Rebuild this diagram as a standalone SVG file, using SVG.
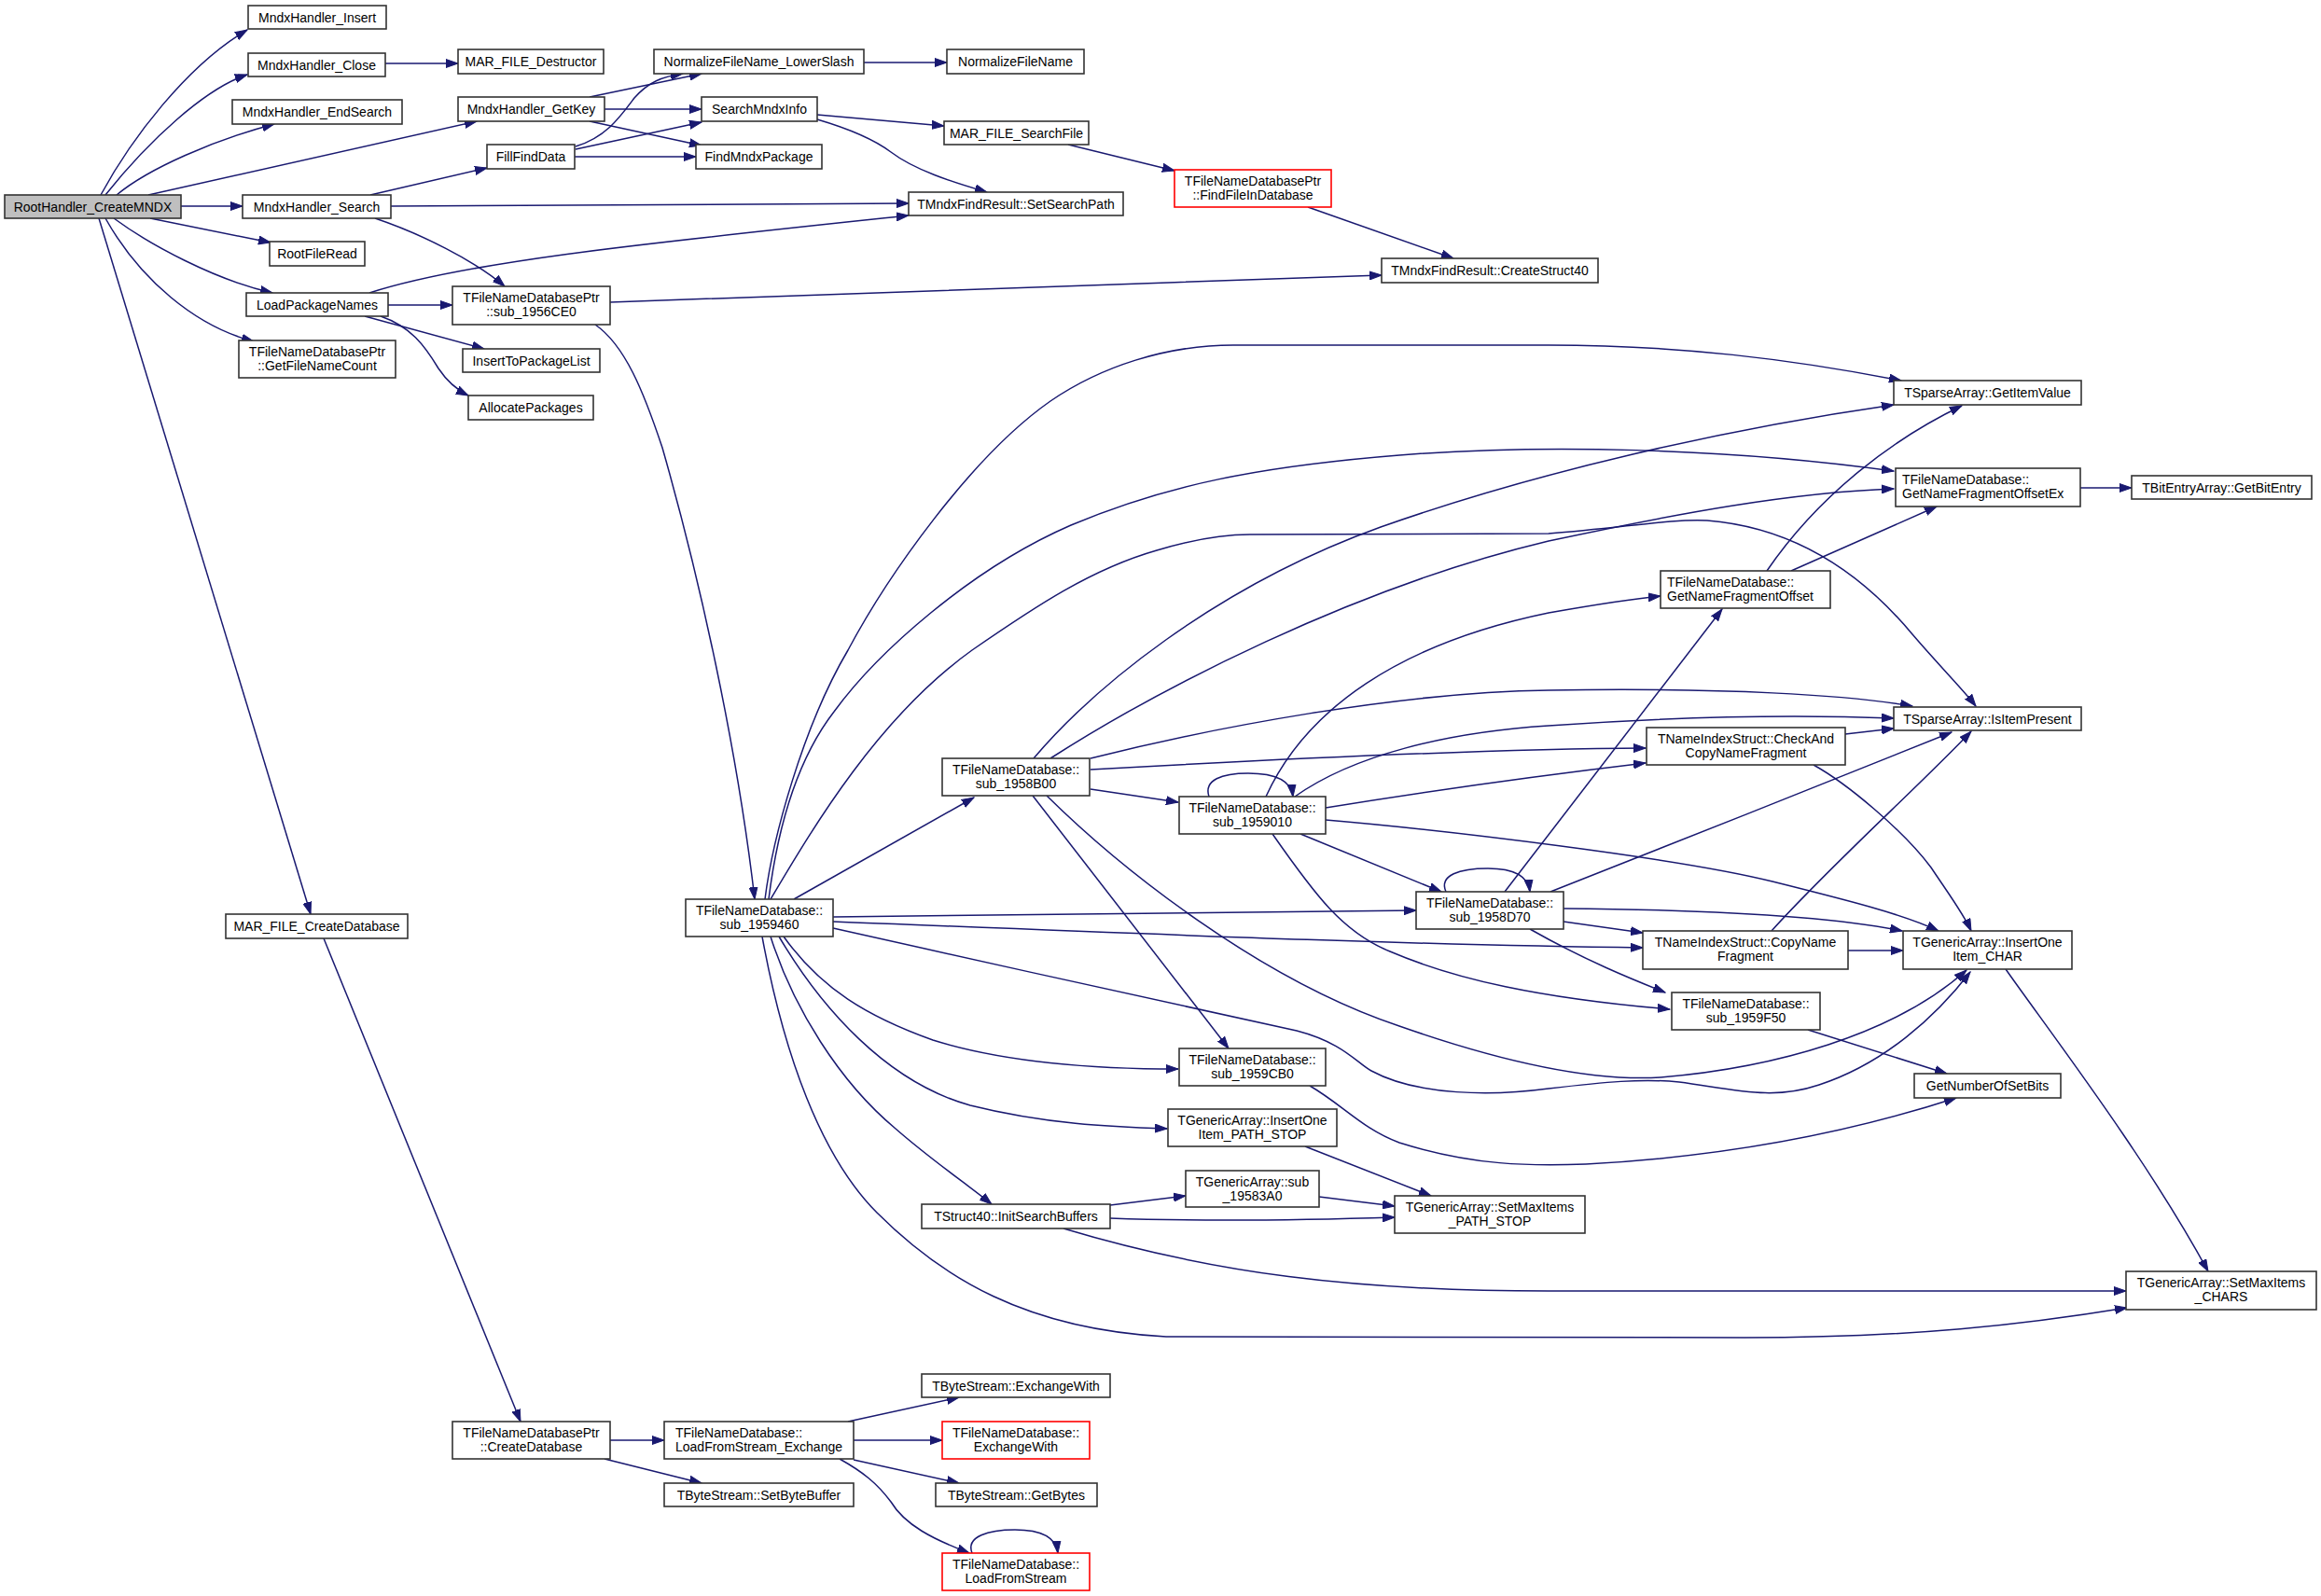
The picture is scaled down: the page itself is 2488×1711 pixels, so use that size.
<svg xmlns="http://www.w3.org/2000/svg" width="2488" height="1711" viewBox="0 0 2488 1711">
<defs>
<style>
.n rect{fill:#fff;stroke:#333;stroke-width:1.6}
.n.g rect{fill:#bfbfbf}
.n.r rect{stroke:#ff0000}
text{font-family:"Liberation Sans",Arial,sans-serif;font-size:14px;fill:#000;text-anchor:middle}
text.l{text-anchor:start}
#edges path{fill:none;stroke:#191970;stroke-width:1.5;marker-end:url(#a)}
</style>
<marker id="a" markerWidth="14" markerHeight="10" refX="13" refY="5" orient="auto" markerUnits="userSpaceOnUse"><path d="M0,0.5 L13,5 L0,9.5 z" fill="#191970" stroke="#191970" stroke-width="1"/></marker>
</defs>
<rect width="2488" height="1711" fill="#fff"/>
<g id="edges">
<path d="M108,209 C140,150 200,70 265,32"/>
<path d="M113,209 C160,150 220,95 265,80"/>
<path d="M125,209 C160,180 230,150 294,133"/>
<path d="M159,209 L511,130"/>
<path d="M194,221 L260,221"/>
<path d="M161,234 L290,260"/>
<path d="M122,234 C160,262 230,300 292,314"/>
<path d="M113,234 C150,300 210,350 272,366"/>
<path d="M106,234 L333,980"/>
<path d="M413,68 L491,68"/>
<path d="M632,104 L752,79"/>
<path d="M648,117 L752,117"/>
<path d="M632,130 L752,156"/>
<path d="M617,157 C650,147 665,125 680,105 C695,88 710,82 732,79"/>
<path d="M617,160 L752,131"/>
<path d="M616,168 L746,168"/>
<path d="M926,67 L1015,67"/>
<path d="M876,123 L1012,135"/>
<path d="M876,128 C910,138 935,148 955,163 C980,182 1020,195 1058,206"/>
<path d="M397,209 L522,180"/>
<path d="M419,221 L974,218"/>
<path d="M402,234 C450,250 510,280 541,307"/>
<path d="M396,314 C500,280 700,260 974,231"/>
<path d="M416,327 L485,327"/>
<path d="M391,339 L519,374"/>
<path d="M408,339 C440,350 455,370 470,395 C480,410 490,418 502,424"/>
<path d="M654,324 C900,314 1200,305 1481,295"/>
<path d="M638,348 C670,370 690,420 710,480 C750,620 790,800 809,964"/>
<path d="M1402,222 L1558,277"/>
<path d="M1145,155 L1259,183"/>
<path d="M347,1006 L558,1524"/>
<path d="M654,1544 L712,1544"/>
<path d="M648,1564 L752,1590"/>
<path d="M909,1524 L1028,1498"/>
<path d="M915,1544 L1010,1544"/>
<path d="M915,1565 L1028,1590"/>
<path d="M900,1564 C925,1578 940,1590 955,1610 C970,1635 1000,1650 1039,1665"/>
<path d="M1042,1665 C1035,1647 1060,1640 1088,1640 C1115,1640 1132,1648 1134,1665"/>
<path d="M820,964 C828,900 860,780 909,697 C950,620 1040,490 1126,430 C1180,393 1250,370 1322,370 L1660,370 C1800,370 1920,385 2038,408"/>
<path d="M824,964 C832,900 850,820 894,763 C940,700 1040,610 1148,563 C1250,520 1350,500 1500,488 C1650,476 1850,480 2030,505"/>
<path d="M826,964 C870,890 940,770 1042,697 C1110,650 1170,610 1240,590 C1280,578 1310,573 1340,573 L1660,572 C1740,566 1790,556 1830,558 C1930,566 2000,620 2050,680 C2080,715 2105,740 2118,757"/>
<path d="M851,964 L1044,855"/>
<path d="M893,983 L1518,976"/>
<path d="M893,988 C1200,1000 1500,1013 1761,1016"/>
<path d="M893,995 C1050,1030 1250,1075 1390,1105 C1440,1118 1455,1140 1470,1148 C1520,1175 1600,1175 1660,1167 C1720,1160 1760,1156 1800,1160 C1860,1168 1900,1180 1950,1163 C2020,1140 2075,1090 2112,1042"/>
<path d="M840,1004 C880,1060 930,1090 1000,1115 C1080,1140 1180,1146 1263,1146"/>
<path d="M835,1004 C880,1080 950,1160 1040,1185 C1120,1205 1190,1208 1251,1210"/>
<path d="M826,1004 C850,1080 900,1160 960,1210 C1000,1245 1040,1272 1063,1291"/>
<path d="M817,1004 C840,1130 880,1240 940,1300 C1010,1370 1100,1425 1250,1433 L1870,1434 C2050,1434 2170,1420 2280,1402"/>
<path d="M1108,813 C1170,740 1300,630 1480,565 C1650,505 1850,460 2030,434"/>
<path d="M1126,813 C1240,740 1450,630 1660,580 C1800,550 1920,528 2030,524"/>
<path d="M1169,813 C1300,780 1500,742 1660,740 C1850,737 1980,745 2050,757"/>
<path d="M1169,825 C1400,812 1600,803 1764,802"/>
<path d="M1169,846 L1263,860"/>
<path d="M1107,853 L1317,1124"/>
<path d="M1122,853 C1200,930 1350,1050 1500,1100 C1600,1135 1700,1160 1780,1155 C1900,1145 2030,1110 2108,1040"/>
<path d="M1296,854 C1290,836 1310,829 1338,829 C1365,829 1384,836 1386,854"/>
<path d="M1357,854 C1400,760 1500,690 1660,657 C1700,650 1740,643 1780,639"/>
<path d="M1388,854 C1450,810 1550,785 1660,778 C1800,768 1920,766 2030,770"/>
<path d="M1421,866 C1550,845 1680,828 1764,818"/>
<path d="M1394,894 L1545,956"/>
<path d="M1364,894 C1410,960 1440,1000 1490,1020 C1560,1050 1650,1070 1790,1082"/>
<path d="M1421,879 C1550,890 1800,920 1900,945 C1980,965 2040,980 2078,998"/>
<path d="M1550,956 C1542,938 1565,931 1595,931 C1622,931 1638,938 1640,956"/>
<path d="M1613,956 L1846,653"/>
<path d="M1662,956 C1780,910 1980,830 2092,785"/>
<path d="M1676,974 C1800,975 1950,980 2039,998"/>
<path d="M1676,988 L1761,1000"/>
<path d="M1640,996 C1700,1030 1750,1050 1785,1064"/>
<path d="M1894,612 C1950,530 2030,470 2103,435"/>
<path d="M1920,612 L2076,543"/>
<path d="M2230,523 L2285,523"/>
<path d="M1978,787 L2030,781"/>
<path d="M1944,820 C1980,840 2040,890 2070,930 C2090,960 2105,980 2113,998"/>
<path d="M1981,1019 L2040,1019"/>
<path d="M1899,998 C1960,930 2060,840 2113,784"/>
<path d="M1938,1104 L2087,1151"/>
<path d="M1404,1164 C1440,1185 1460,1210 1500,1225 C1580,1250 1640,1250 1700,1248 C1850,1240 1980,1215 2097,1177"/>
<path d="M2150,1039 C2200,1110 2300,1240 2367,1363"/>
<path d="M1399,1229 L1534,1282"/>
<path d="M1414,1283 L1495,1293"/>
<path d="M1190,1292 L1271,1282"/>
<path d="M1190,1306 C1300,1310 1400,1308 1495,1305"/>
<path d="M1140,1317 C1300,1365 1450,1384 1660,1384 L2279,1384"/>
</g>
<g id="n1" class="n g"><rect x="5" y="209" width="189" height="25"/><text x="99.5" y="226.5">RootHandler_CreateMNDX</text></g>
<g id="n2" class="n"><rect x="266" y="6" width="148" height="25"/><text x="340" y="23.5">MndxHandler_Insert</text></g>
<g id="n3" class="n"><rect x="266" y="57" width="147" height="25"/><text x="339.5" y="74.5">MndxHandler_Close</text></g>
<g id="n4" class="n"><rect x="249" y="107" width="182" height="26"/><text x="340" y="124.5">MndxHandler_EndSearch</text></g>
<g id="n5" class="n"><rect x="491" y="104" width="157" height="26"/><text x="569.5" y="121.5">MndxHandler_GetKey</text></g>
<g id="n6" class="n"><rect x="260" y="209" width="159" height="25"/><text x="339.5" y="226.5">MndxHandler_Search</text></g>
<g id="n7" class="n"><rect x="289" y="259" width="102" height="26"/><text x="340" y="276.5">RootFileRead</text></g>
<g id="n8" class="n"><rect x="264" y="314" width="152" height="25"/><text x="340" y="331.5">LoadPackageNames</text></g>
<g id="n9" class="n"><rect x="256" y="365" width="168" height="40"/><text x="340" y="382">TFileNameDatabasePtr</text><text x="340" y="396.5">::GetFileNameCount</text></g>
<g id="n10" class="n"><rect x="242" y="980" width="195" height="26"/><text x="339.5" y="997.5">MAR_FILE_CreateDatabase</text></g>
<g id="n11" class="n"><rect x="491" y="53" width="156" height="26"/><text x="569" y="70.5">MAR_FILE_Destructor</text></g>
<g id="n12" class="n"><rect x="701" y="53" width="225" height="26"/><text x="813.5" y="70.5">NormalizeFileName_LowerSlash</text></g>
<g id="n13" class="n"><rect x="1015" y="53" width="147" height="26"/><text x="1088.5" y="70.5">NormalizeFileName</text></g>
<g id="n14" class="n"><rect x="752" y="104" width="124" height="26"/><text x="814" y="121.5">SearchMndxInfo</text></g>
<g id="n15" class="n"><rect x="522" y="155" width="94" height="26"/><text x="569" y="172.5">FillFindData</text></g>
<g id="n16" class="n"><rect x="746" y="155" width="135" height="26"/><text x="813.5" y="172.5">FindMndxPackage</text></g>
<g id="n17" class="n"><rect x="1012" y="130" width="155" height="25"/><text x="1089.5" y="147.5">MAR_FILE_SearchFile</text></g>
<g id="n18" class="n"><rect x="974" y="206" width="230" height="25"/><text x="1089" y="223.5">TMndxFindResult::SetSearchPath</text></g>
<g id="n19" class="n r"><rect x="1259" y="182" width="168" height="40"/><text x="1343" y="199">TFileNameDatabasePtr</text><text x="1343" y="213.5">::FindFileInDatabase</text></g>
<g id="n20" class="n"><rect x="1481" y="277" width="232" height="26"/><text x="1597" y="294.5">TMndxFindResult::CreateStruct40</text></g>
<g id="n21" class="n"><rect x="485" y="307" width="169" height="41"/><text x="569.5" y="324">TFileNameDatabasePtr</text><text x="569.5" y="338.5">::sub_1956CE0</text></g>
<g id="n22" class="n"><rect x="496" y="374" width="147" height="25"/><text x="569.5" y="391.5">InsertToPackageList</text></g>
<g id="n23" class="n"><rect x="502" y="424" width="134" height="26"/><text x="569" y="441.5">AllocatePackages</text></g>
<g id="n24" class="n"><rect x="735" y="964" width="158" height="40"/><text x="814" y="981">TFileNameDatabase::</text><text x="814" y="995.5">sub_1959460</text></g>
<g id="n25" class="n"><rect x="1010" y="813" width="158" height="40"/><text x="1089" y="830">TFileNameDatabase::</text><text x="1089" y="844.5">sub_1958B00</text></g>
<g id="n26" class="n"><rect x="1264" y="854" width="157" height="40"/><text x="1342.5" y="871">TFileNameDatabase::</text><text x="1342.5" y="885.5">sub_1959010</text></g>
<g id="n27" class="n"><rect x="1518" y="956" width="158" height="40"/><text x="1597" y="973">TFileNameDatabase::</text><text x="1597" y="987.5">sub_1958D70</text></g>
<g id="n28" class="n"><rect x="1264" y="1124" width="157" height="40"/><text x="1342.5" y="1141">TFileNameDatabase::</text><text x="1342.5" y="1155.5">sub_1959CB0</text></g>
<g id="n29" class="n"><rect x="1252" y="1189" width="181" height="40"/><text x="1342.5" y="1206">TGenericArray::InsertOne</text><text x="1342.5" y="1220.5">Item_PATH_STOP</text></g>
<g id="n30" class="n"><rect x="1271" y="1255" width="143" height="39"/><text x="1342.5" y="1272">TGenericArray::sub</text><text x="1342.5" y="1286.5">_19583A0</text></g>
<g id="n31" class="n"><rect x="1495" y="1282" width="204" height="40"/><text x="1597" y="1299">TGenericArray::SetMaxItems</text><text x="1597" y="1313.5">_PATH_STOP</text></g>
<g id="n32" class="n"><rect x="988" y="1291" width="202" height="26"/><text x="1089" y="1308.5">TStruct40::InitSearchBuffers</text></g>
<g id="n33" class="n"><rect x="2030" y="408" width="201" height="26"/><text x="2130.5" y="425.5">TSparseArray::GetItemValue</text></g>
<g id="n34" class="n"><rect x="2032" y="502" width="198" height="41"/><text class="l" x="2039" y="519">TFileNameDatabase::</text><text class="l" x="2039" y="533.5">GetNameFragmentOffsetEx</text></g>
<g id="n35" class="n"><rect x="2285" y="510" width="193" height="25"/><text x="2381.5" y="527.5">TBitEntryArray::GetBitEntry</text></g>
<g id="n36" class="n"><rect x="1780" y="612" width="182" height="40"/><text class="l" x="1787" y="629">TFileNameDatabase::</text><text class="l" x="1787" y="643.5">GetNameFragmentOffset</text></g>
<g id="n37" class="n"><rect x="2030" y="758" width="201" height="25"/><text x="2130.5" y="775.5">TSparseArray::IsItemPresent</text></g>
<g id="n38" class="n"><rect x="1765" y="780" width="213" height="40"/><text x="1871.5" y="797">TNameIndexStruct::CheckAnd</text><text x="1871.5" y="811.5">CopyNameFragment</text></g>
<g id="n39" class="n"><rect x="1761" y="998" width="220" height="41"/><text x="1871" y="1015">TNameIndexStruct::CopyName</text><text x="1871" y="1029.5">Fragment</text></g>
<g id="n40" class="n"><rect x="2040" y="998" width="181" height="41"/><text x="2130.5" y="1015">TGenericArray::InsertOne</text><text x="2130.5" y="1029.5">Item_CHAR</text></g>
<g id="n41" class="n"><rect x="1792" y="1064" width="159" height="40"/><text x="1871.5" y="1081">TFileNameDatabase::</text><text x="1871.5" y="1095.5">sub_1959F50</text></g>
<g id="n42" class="n"><rect x="2052" y="1151" width="157" height="26"/><text x="2130.5" y="1168.5">GetNumberOfSetBits</text></g>
<g id="n43" class="n"><rect x="2279" y="1363" width="204" height="41"/><text x="2381" y="1380">TGenericArray::SetMaxItems</text><text x="2381" y="1394.5">_CHARS</text></g>
<g id="n44" class="n"><rect x="485" y="1524" width="169" height="40"/><text x="569.5" y="1541">TFileNameDatabasePtr</text><text x="569.5" y="1555.5">::CreateDatabase</text></g>
<g id="n45" class="n"><rect x="712" y="1524" width="203" height="40"/><text class="l" x="724" y="1541">TFileNameDatabase::</text><text class="l" x="724" y="1555.5">LoadFromStream_Exchange</text></g>
<g id="n46" class="n"><rect x="712" y="1590" width="203" height="25"/><text x="813.5" y="1607.5">TByteStream::SetByteBuffer</text></g>
<g id="n47" class="n"><rect x="988" y="1473" width="202" height="25"/><text x="1089" y="1490.5">TByteStream::ExchangeWith</text></g>
<g id="n48" class="n r"><rect x="1010" y="1524" width="158" height="40"/><text x="1089" y="1541">TFileNameDatabase::</text><text x="1089" y="1555.5">ExchangeWith</text></g>
<g id="n49" class="n"><rect x="1003" y="1590" width="173" height="25"/><text x="1089.5" y="1607.5">TByteStream::GetBytes</text></g>
<g id="n50" class="n r"><rect x="1010" y="1665" width="158" height="40"/><text x="1089" y="1682">TFileNameDatabase::</text><text x="1089" y="1696.5">LoadFromStream</text></g>
</svg>
